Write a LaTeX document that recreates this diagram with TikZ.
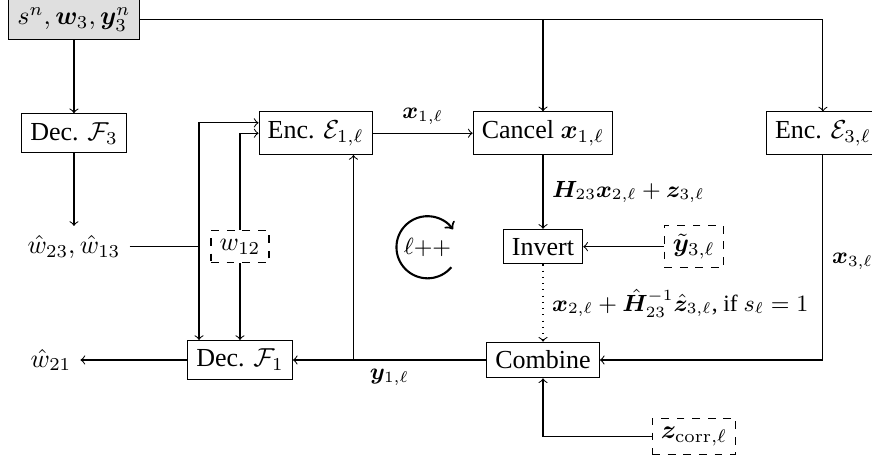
\documentclass[tikz,border=0pt]{standalone}
\usepackage{amsmath}
\usepackage{amssymb}
\usepackage{bm}
\usepackage[no-math]{fontspec}
\setmainfont{Liberation Serif}
\usepackage{tikz}

\begin{document}
\begin{tikzpicture}[block/.style={rectangle, draw}, dashbox/.style={rectangle, draw, dashed}, lbl/.style={font=\small}]
    \useasboundingbox (0,0) rectangle (11.787,6.231);
    % Side information at node 3
    \node[block, fill=gray!25] (SRC) at (1.0, 5.970) {$s^n, \bm{w}_3, \bm{y}_3^n$};
    % Top row
    \node[block] (DEC3) at (1.0, 4.43) {Dec. $\mathcal{F}_3$};
    \node[block] (ENC1) at (4.267, 4.43) {Enc. $\mathcal{E}_{1,\ell}$};
    \node[block] (CANCEL) at (7.34, 4.43) {Cancel $\bm{x}_{1,\ell}$};
    \node[block] (ENC3) at (11.124, 4.43) {Enc. $\mathcal{E}_{3,\ell}$};
    % Middle row
    \node (W3HAT) at (1.0, 2.897) {$\hat{w}_{23}, \hat{w}_{13}$};
    \node[dashbox] (W12) at (3.244, 2.897) {$w_{12}$};
    \node[block] (INV) at (7.34, 2.897) {Invert};
    \node[dashbox] (YT) at (9.378, 2.897) {$\tilde{\bm{y}}_{3,\ell}$};
    % Bottom row
    \node (W21) at (0.689, 1.365) {$\hat{w}_{21}$};
    \node[block] (DEC1) at (3.244, 1.365) {Dec. $\mathcal{F}_1$};
    \node[block] (COMB) at (7.34, 1.365) {Combine};
    \node[dashbox] (ZC) at (9.381, 0.335) {$\bm{z}_{\mathrm{corr},\ell}$};
    % Block iteration
    \node[lbl] (LOOP) at (5.779, 2.889) {$\ell{+}{+}$};
    \draw[->, thick] (LOOP.center) ++(-40:0.42) arc[start angle=-40, end angle=-325, radius=0.42];
    % Junctions
    \coordinate (J1) at (2.690, 2.897);
    \coordinate (J2) at (4.778, 1.365);
    % Connections
    \draw[->] (SRC) -- (DEC3);
    \draw[->] (SRC.east) -| (ENC3.north);
    \draw[->] (SRC.east -| CANCEL.north) -- (CANCEL.north);
    \draw[->] (DEC3) -- (W3HAT);
    \draw (W3HAT) -- (J1);
    \draw[->] (J1) |- ([yshift=4pt]ENC1.west);
    \draw[->] (J1) -- (J1 |- DEC1.north);
    \draw[->] (W12.north) |- (ENC1.west);
    \draw[->] (W12) -- (DEC1);
    \draw[->] (ENC1) -- node[lbl, above] {$\bm{x}_{1,\ell}$} (CANCEL);
    \draw[->] (CANCEL) -- node[lbl, right] {$\bm{H}_{23}\bm{x}_{2,\ell} + \bm{z}_{3,\ell}$} (INV);
    \draw[->] (YT) -- (INV);
    \draw[->, dotted] (INV) -- node[lbl, right] {$\bm{x}_{2,\ell} + \hat{\bm{H}}_{23}^{-1}\hat{\bm{z}}_{3,\ell}$, if $s_\ell = 1$} (COMB);
    \draw[->] (ENC3.south) |- node[lbl, pos=0.26, right] {$\bm{x}_{3,\ell}$} (COMB.east);
    \draw[->] (ZC.west) -| (COMB.south);
    \draw[->] (COMB) -- node[lbl, below] {$\bm{y}_{1,\ell}$} (DEC1);
    \draw[->] (J2) -- (J2 |- ENC1.south);
    \draw[->] (DEC1) -- (W21);
\end{tikzpicture}
\end{document}
